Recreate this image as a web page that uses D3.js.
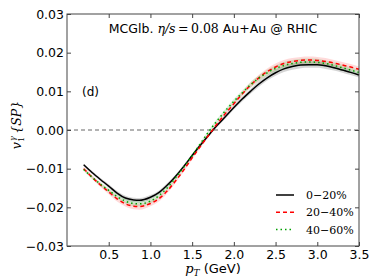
<!DOCTYPE html>
<html>
<head>
<meta charset="utf-8">
<script src="https://cdn.jsdelivr.net/npm/d3@7"></script>
<style>
  body { margin: 0; background: #fff; }
  svg text { font-family: "DejaVu Sans", sans-serif; }
  .math { font-family: "DejaVu Serif", serif; }
</style>
</head>
<body>
<div id="chart"></div>
<script>
// p_T grid (GeV)
var pt = [0.2, 0.3, 0.4, 0.5, 0.6, 0.7, 0.8, 0.87, 1.0, 1.1, 1.2, 1.3, 1.4, 1.5, 1.6, 1.7, 1.8, 1.9, 2.0,
          2.1, 2.2, 2.3, 2.4, 2.5, 2.6, 2.7, 2.8, 2.9, 3.0, 3.1, 3.2, 3.3, 3.4, 3.5];

var v1_0_20 = [-0.0090, -0.0110, -0.0128, -0.0145, -0.0163, -0.0176, -0.0181, -0.0182, -0.0174, -0.0162,
               -0.0143, -0.0120, -0.0094, -0.0066, -0.0039, -0.0013, 0.0012, 0.0035, 0.0058, 0.0080,
               0.0100, 0.0119, 0.0135, 0.0148, 0.0158, 0.0164, 0.0168, 0.0169, 0.0169, 0.0166,
               0.0161, 0.0155, 0.0149, 0.0142];
var v1_20_40 = [-0.0100, -0.0122, -0.0142, -0.0160, -0.0178, -0.0191, -0.0197, -0.0198, -0.0190, -0.0178,
                -0.0158, -0.0132, -0.0103, -0.0072, -0.0042, -0.0013, 0.0016, 0.0043, 0.0068, 0.0093,
                0.0116, 0.0135, 0.0151, 0.0163, 0.0172, 0.0177, 0.0180, 0.0181, 0.0180, 0.0177,
                0.0173, 0.0168, 0.0163, 0.0157];
var v1_40_60 = [-0.0102, -0.0122, -0.0140, -0.0156, -0.0172, -0.0184, -0.0190, -0.0191, -0.0184, -0.0170,
                -0.0150, -0.0124, -0.0096, -0.0066, -0.0035, -0.0004, 0.0024, 0.0050, 0.0074, 0.0096,
                0.0117, 0.0134, 0.0148, 0.0159, 0.0167, 0.0172, 0.0175, 0.0176, 0.0175, 0.0172,
                0.0167, 0.0161, 0.0155, 0.0149];

// error band half widths
var err_0_20 = [0.0003, 0.0004, 0.0004, 0.0005, 0.0005, 0.0006, 0.0006, 0.0006, 0.0006, 0.0005,
                0.0005, 0.0004, 0.0004, 0.0004, 0.0004, 0.0004, 0.0004, 0.0005, 0.0005, 0.0006,
                0.0006, 0.0007, 0.0007, 0.0008, 0.0008, 0.0008, 0.0008, 0.0008, 0.0008, 0.0008,
                0.0007, 0.0007, 0.0007, 0.0006];
var err_20_40 = [0.0004, 0.0005, 0.0005, 0.0006, 0.0007, 0.0007, 0.0008, 0.0008, 0.0007, 0.0007,
                 0.0006, 0.0005, 0.0005, 0.0004, 0.0004, 0.0004, 0.0004, 0.0005, 0.0006, 0.0006,
                 0.0007, 0.0008, 0.0008, 0.0009, 0.0009, 0.0009, 0.0009, 0.0009, 0.0009, 0.0009,
                 0.0008, 0.0008, 0.0008, 0.0007];
var err_40_60 = [0.0004, 0.0004, 0.0005, 0.0005, 0.0006, 0.0006, 0.0007, 0.0007, 0.0006, 0.0006,
                 0.0005, 0.0005, 0.0004, 0.0004, 0.0004, 0.0004, 0.0005, 0.0005, 0.0006, 0.0006,
                 0.0007, 0.0007, 0.0008, 0.0008, 0.0009, 0.0009, 0.0009, 0.0009, 0.0009, 0.0008,
                 0.0008, 0.0008, 0.0007, 0.0007];

var centLabels = ["0\u221220%", "20\u221240%", "40\u221260%"];
var xTicks = [0.5, 1.0, 1.5, 2.0, 2.5, 3.0, 3.5];
var yTicks = [-0.03, -0.02, -0.01, 0.00, 0.01, 0.02, 0.03];

var W = 374, H = 280;
var m = {left: 67, right: 15, top: 14, bottom: 34};

var svg = d3.select("#chart").append("svg")
    .attr("width", W).attr("height", H);

var x = d3.scaleLinear().domain([0, 3.5]).range([m.left, W - m.right]);
var y = d3.scaleLinear().domain([-0.03, 0.03]).range([H - m.bottom, m.top]);

var series = [
  {vals: v1_0_20, err: err_0_20, color: "#000000", band: "#888888", bandOp: 0.35, dash: null, label: centLabels[0]},
  {vals: v1_20_40, err: err_20_40, color: "#ff0000", band: "#ff3030", bandOp: 0.18, dash: "4,3", label: centLabels[1]},
  {vals: v1_40_60, err: err_40_60, color: "#00a000", band: "#30b030", bandOp: 0.18, dash: "1.5,3", label: centLabels[2]}
];

// bands first
series.forEach(function(s){
  var area = d3.area()
      .x(function(d, i){ return x(pt[i]); })
      .y0(function(d, i){ return y(d - s.err[i]); })
      .y1(function(d, i){ return y(d + s.err[i]); })
      .curve(d3.curveMonotoneX);
  svg.append("path").attr("d", area(s.vals))
      .attr("fill", s.band).attr("fill-opacity", s.bandOp).attr("stroke", "none");
});

// zero line
svg.append("line")
    .attr("x1", x(0)).attr("x2", x(3.5))
    .attr("y1", y(0)).attr("y2", y(0))
    .attr("stroke", "#666").attr("stroke-width", 1)
    .attr("stroke-dasharray", "4,3");

series.forEach(function(s){
  var line = d3.line()
      .x(function(d, i){ return x(pt[i]); })
      .y(function(d){ return y(d); })
      .curve(d3.curveMonotoneX);
  svg.append("path").attr("d", line(s.vals))
      .attr("fill", "none").attr("stroke", s.color)
      .attr("stroke-width", 1.5)
      .attr("stroke-dasharray", s.dash);
});

// axes (ticks inward like matplotlib)
var fmtY = function(d){ return d3.format(".2f")(d).replace("-", "\u2212"); };
var gx = svg.append("g").attr("transform", "translate(0," + (H - m.bottom) + ")")
    .call(d3.axisBottom(x).tickValues(xTicks).tickFormat(d3.format(".1f")).tickSizeInner(-4).tickSizeOuter(0).tickPadding(4));
var gy = svg.append("g").attr("transform", "translate(" + m.left + ",0)")
    .call(d3.axisLeft(y).tickValues(yTicks).tickFormat(fmtY).tickSizeInner(-4).tickSizeOuter(0).tickPadding(3));
var gt = svg.append("g").attr("transform", "translate(0," + m.top + ")")
    .call(d3.axisTop(x).tickValues(xTicks).tickFormat("").tickSizeInner(-4).tickSizeOuter(0));
var gr = svg.append("g").attr("transform", "translate(" + (W - m.right) + ",0)")
    .call(d3.axisRight(y).tickValues(yTicks).tickFormat("").tickSizeInner(-4).tickSizeOuter(0));
[gx, gy, gt, gr].forEach(function(g){
  g.select(".domain").remove();
  g.selectAll("line").attr("stroke", "#444");
  g.selectAll("text").attr("font-size", 12.5).attr("fill", "#000")
      .attr("font-family", "DejaVu Sans, sans-serif");
});

svg.append("rect")
    .attr("x", m.left).attr("y", m.top)
    .attr("width", W - m.left - m.right).attr("height", H - m.top - m.bottom)
    .attr("fill", "none").attr("stroke", "#444").attr("stroke-width", 1);

// title
var title = svg.append("text").attr("x", 213).attr("y", 33)
    .attr("text-anchor", "middle").attr("font-size", 12.5);
title.append("tspan").text("MCGlb. ");
title.append("tspan").attr("class", "math").attr("font-style", "italic").text("\u03b7/s");
title.append("tspan").attr("class", "math").text("\u2009=\u20090.08");
title.append("tspan").text(" Au+Au @ RHIC");

svg.append("text").attr("x", 82).attr("y", 96).attr("font-size", 12).text("(d)");

// x label
var xl = svg.append("text").attr("x", 213).attr("y", 273)
    .attr("text-anchor", "middle").attr("font-size", 13);
xl.append("tspan").attr("class", "math").attr("font-style", "italic").text("p");
xl.append("tspan").attr("class", "math").attr("font-style", "italic")
    .attr("font-size", 9).attr("dy", 3).text("T");
xl.append("tspan").attr("dy", -3).text(" (GeV)");

// y label
var yl = svg.append("text").attr("class", "math")
    .attr("transform", "translate(21,125) rotate(-90)")
    .attr("text-anchor", "middle").attr("font-size", 12.5).attr("font-style", "italic");
yl.append("tspan").text("v");
yl.append("tspan").attr("font-size", 8).attr("dy", 3).attr("font-style", "normal").text("1");
yl.append("tspan").attr("font-size", 8).attr("dy", -9).attr("dx", -4).text("\u03b3");
yl.append("tspan").attr("dy", 6).text("\u2009{SP}");

// legend
var lg = svg.append("g");
series.forEach(function(s, i){
  var yy = 195 + i * 17.3;
  lg.append("line").attr("x1", 276).attr("x2", 294).attr("y1", yy).attr("y2", yy)
      .attr("stroke", s.color).attr("stroke-width", 1.5).attr("stroke-dasharray", s.dash);
  lg.append("text").attr("class", "math").attr("x", 306).attr("y", yy + 4)
      .attr("font-size", 11).text(s.label);
});
</script>
</body>
</html>
